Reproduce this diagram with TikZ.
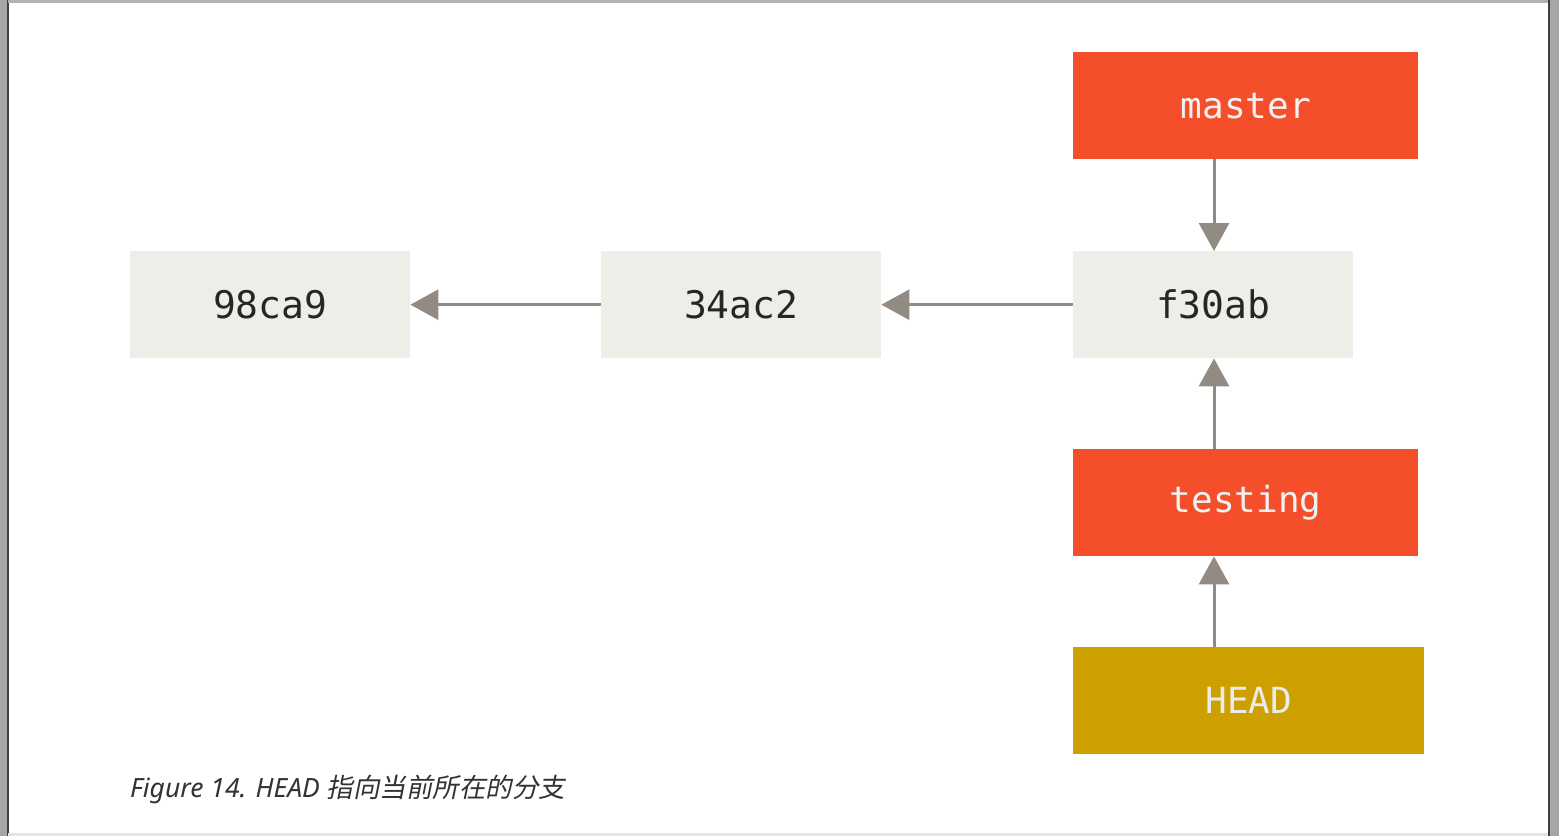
\documentclass[tikz,border=0pt]{standalone}
\usepackage{fontspec}
\usetikzlibrary{arrows.meta}
\setmainfont{Noto Sans}
\setmonofont{DejaVu Sans Mono}
\newfontfamily\cjkit[FakeSlant=0.2]{Noto Sans CJK SC}
\definecolor{commitbg}{HTML}{EEEDE7}
\definecolor{branchbg}{HTML}{F44F2A}
\definecolor{headbg}{HTML}{CDA000}
\definecolor{arrowc}{HTML}{918B83}
\definecolor{captc}{HTML}{333333}
\tikzset{
  box/.style={rectangle, inner sep=0pt, anchor=north west},
  commit/.style={box, fill=commitbg, text=black!85, minimum width=280pt, minimum height=107pt, font=\ttfamily\fontsize{38}{44}\selectfont},
  branch/.style={box, fill=branchbg, text=white!95!black, minimum width=345pt, minimum height=107pt, font=\ttfamily\fontsize{36}{42}\selectfont},
  headbox/.style={box, fill=headbg, text=white!92!black, minimum width=351pt, minimum height=107pt, font=\ttfamily\fontsize{36}{42}\selectfont},
  conn/.style={draw=arrowc, line width=3pt, -{Triangle[width=30pt,length=28pt]}, arrowc},
}
\begin{document}
\begin{tikzpicture}[x=1pt,y=-1pt]
\useasboundingbox (0,0) rectangle (1559,836);
\fill[white] (0,0) rectangle (1559,836);
% frame
\fill[gray!70] (0,0) rectangle (8,836);
\fill[black!75] (7,0) rectangle (9,836);
\fill[gray!70] (1550,0) rectangle (1559,836);
\fill[black!75] (1548,0) rectangle (1550,836);
\fill[gray!60] (8,0) rectangle (1548,3);
\fill[gray!20] (8,833) rectangle (1548,836);
% nodes
\node[commit] (c1) at (130,251) {98ca9};
\node[commit] (c2) at (601,251) {34ac2};
\node[commit] (c3) at (1073,251) {f30ab};
\node[branch] (master) at (1073,52) {master};
\node[branch] (testing) at (1073,449) {testing};
\node[headbox] (head) at (1073,647) {HEAD};
% connectors
\coordinate (m1) at (1214,159);
\coordinate (t1) at (1214,449);
\coordinate (h1) at (1214,647);
\draw[conn] (m1) -- (m1 |- c3.north);
\draw[conn] (t1) -- (t1 |- c3.south);
\draw[conn] (h1) -- (h1 |- testing.south);
\draw[conn] (c3.west) -- (c2.east);
\draw[conn] (c2.west) -- (c1.east);
% caption
\node[anchor=base west, inner sep=0pt, text=captc, font=\fontsize{26.5}{32}\selectfont\itshape] (cap) at (130,797) {Figure 14. HEAD {\cjkit 指向当前所在的分支}};
\end{tikzpicture}
\end{document}
